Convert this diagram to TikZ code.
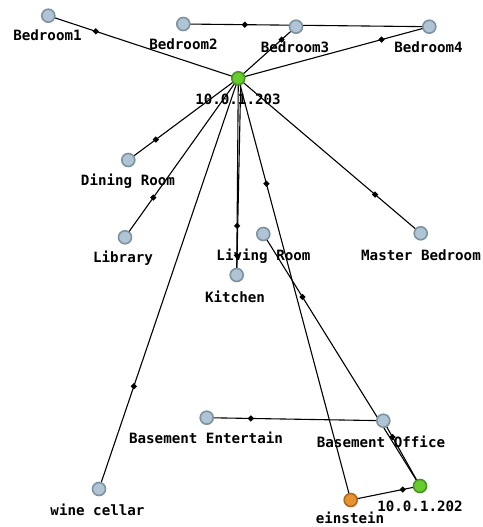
\documentclass[tikz,border=0pt]{standalone}
\usepackage{fontspec}
\setmonofont{DejaVu Sans Mono}
\usetikzlibrary{shapes.geometric,calc}
\definecolor{roomfill}{HTML}{AFC4D4}
\definecolor{roomedge}{HTML}{7E929F}
\definecolor{hostfill}{HTML}{66CC2E}
\definecolor{hostedge}{HTML}{4A9420}
\definecolor{pcfill}{HTML}{E8912F}
\definecolor{pcedge}{HTML}{B06A1E}
\begin{document}
\begin{tikzpicture}[x=1pt,y=-1pt,
  room/.style={circle,draw=roomedge,fill=roomfill,line width=1.6pt,minimum size=13pt,inner sep=0pt},
  host/.style={room,draw=hostedge,fill=hostfill},
  pc/.style={room,draw=pcedge,fill=pcfill},
  lbl/.style={font=\ttfamily\bfseries\fontsize{14.2}{15}\selectfont,inner sep=0pt,anchor=base},
  link/.style={draw=black,line width=1.1pt},
  dia/.style={diamond,fill=black,inner sep=0pt,minimum size=6.5pt}]
\useasboundingbox (0,0) rectangle (482,527);
% node positions
\coordinate (pB1) at (48.3,15.7);
\coordinate (pB2) at (183.3,24);
\coordinate (pB3) at (296,26.7);
\coordinate (pB4) at (429.3,26.7);
\coordinate (pH3) at (238.3,78.3);
\coordinate (pDR) at (128.3,160);
\coordinate (pLib) at (125,237.3);
\coordinate (pKit) at (236.7,275);
\coordinate (pLR) at (263.3,234);
\coordinate (pMB) at (420.7,233.3);
\coordinate (pBE) at (206.7,417.7);
\coordinate (pBO) at (383.3,420.7);
\coordinate (pWC) at (99,489);
\coordinate (pEin) at (350.7,500);
\coordinate (pH2) at (420,486);
% links
\draw[link] (pH3) -- (pB1);
\draw[link] (pB4) -- (pB2);
\draw[link] (pH3) -- (pB3);
\draw[link] (pH3) -- (pB4);
\draw[link] (pH3) -- (pDR);
\draw[link] (pH3) -- (pLib);
\draw[link] (pH3) -- (pWC);
\draw[link] (pH3) -- (pKit);
\draw[link] ($(pH3)+(2.5,0)$) -- (pKit);
\draw[link] (pEin) -- (pH3);
\draw[link] (pH3) -- (pMB);
\draw[link] (pH2) -- (pLR);
\draw[link] (pH2) -- (pBO);
\draw[link] (pBO) -- (pBE);
\draw[link] (pEin) -- (pH2);
% markers
\node[dia] (d1) at ($(pH3)!0.75!(pB1)$) {};
\node[dia] (d2) at ($(pB4)!0.75!(pB2)$) {};
\node[dia] (d3) at ($(pH3)!0.75!(pB3)$) {};
\node[dia] (d4) at ($(pH3)!0.75!(pB4)$) {};
\node[dia] (d5) at ($(pH3)!0.75!(pDR)$) {};
\node[dia] (d6) at ($(pH3)!0.75!(pLib)$) {};
\node[dia] (d7) at ($(pH3)!0.75!(pWC)$) {};
\node[dia] (d8) at ($(pH3)!0.75!(pKit)$) {};
\node[dia] (d9) at ($(pH3)!0.9!(pKit)$) {};
\node[dia] (d10) at ($(pEin)!0.75!(pH3)$) {};
\node[dia] (d11) at ($(pH3)!0.75!(pMB)$) {};
\node[dia] (d12) at ($(pH2)!0.75!(pLR)$) {};
\node[dia] (d13) at ($(pH2)!0.75!(pBO)$) {};
\node[dia] (d14) at ($(pBO)!0.75!(pBE)$) {};
\node[dia] (d15) at ($(pEin)!0.75!(pH2)$) {};
% nodes
\node[room] (B1) at (pB1) {};
\node[room] (B2) at (pB2) {};
\node[room] (B3) at (pB3) {};
\node[room] (B4) at (pB4) {};
\node[host] (H3) at (pH3) {};
\node[room] (DR) at (pDR) {};
\node[room] (Lib) at (pLib) {};
\node[room] (Kit) at (pKit) {};
\node[room] (LR) at (pLR) {};
\node[room] (MB) at (pMB) {};
\node[room] (BE) at (pBE) {};
\node[room] (BO) at (pBO) {};
\node[room] (WC) at (pWC) {};
\node[pc] (Ein) at (pEin) {};
\node[host] (H2) at (pH2) {};
% labels
\node[lbl] (lB1) at (47.5,41) {Bedroom1};
\node[lbl] (lB2) at (183.5,49.5) {Bedroom2};
\node[lbl] (lB3) at (295,52.5) {Bedroom3};
\node[lbl] (lB4) at (428.5,52.5) {Bedroom4};
\node[lbl] (lH3) at (238,104) {10.0.1.203};
\node[lbl] (lDR) at (128,185.5) {Dining Room};
\node[lbl] (lLib) at (123,262) {Library};
\node[lbl] (lLR) at (263.5,260) {Living Room};
\node[lbl] (lKit) at (235,302) {Kitchen};
\node[lbl] (lMB) at (421,260) {Master Bedroom};
\node[lbl] (lBE) at (206,443) {Basement Entertain};
\node[lbl] (lBO) at (381,447) {Basement Office};
\node[lbl] (lWC) at (97.5,515) {wine cellar};
\node[lbl] (lEin) at (350,523.5) {einstein};
\node[lbl] (lH2) at (420,511) {10.0.1.202};
\end{tikzpicture}
\end{document}
